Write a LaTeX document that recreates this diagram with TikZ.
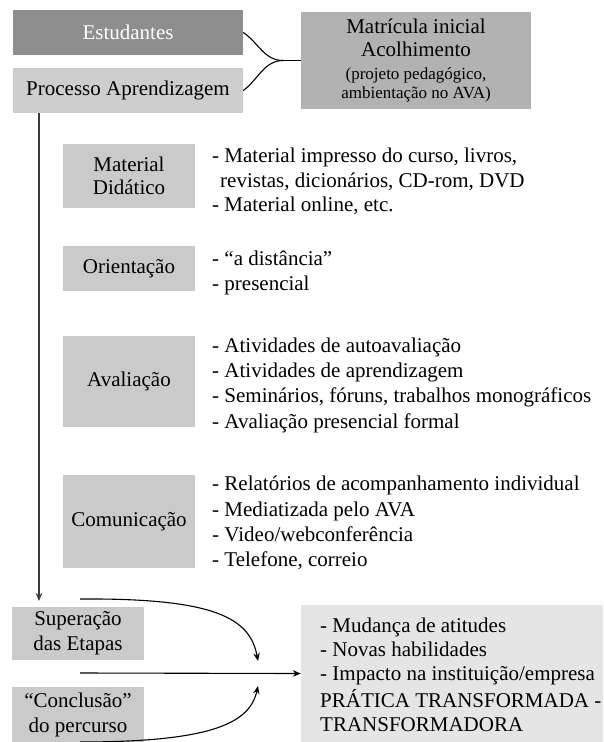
\documentclass[tikz,border=0pt]{standalone}
\usepackage{fontspec}
\setmainfont{Liberation Serif}
\usetikzlibrary{arrows.meta,calc}
\definecolor{gDark}{RGB}{142,142,142}
\definecolor{gMat}{RGB}{178,178,178}
\definecolor{gBox}{RGB}{202,202,202}
\definecolor{gProc}{RGB}{206,206,206}
\definecolor{gFinal}{RGB}{229,229,229}
\definecolor{lineDark}{RGB}{60,60,60}
\begin{document}
\begin{tikzpicture}[x=1pt,y=-1pt,
  box/.style={fill=gBox, draw=none, inner sep=0pt, align=center, font=\fontsize{21}{23}\selectfont},
  txt/.style={anchor=west, align=left, inner sep=0pt, font=\fontsize{21}{25}\selectfont},
  conn/.style={line width=1.1pt, black},
  arr/.style={conn, -{Stealth[length=8pt,width=6.5pt]}}]
\useasboundingbox (0,0) rectangle (603,742);

% top boxes
\node[box, fill=gDark, text=white, minimum width=230pt, minimum height=45pt] (est) at (128,32.5) {Estudantes};
\node[box, fill=gProc, minimum width=230pt, minimum height=45pt] (proc) at (128,90.5) {Processo Aprendizagem};
\node[box, fill=gMat, minimum width=230pt, minimum height=97pt] (mat) at (416,60.5)
  {Matrícula inicial\\Acolhimento\\{\fontsize{17}{19}\selectfont (projeto pedagógico,}\\[-4pt]{\fontsize{17}{19}\selectfont ambientação no AVA)}};

\coordinate (join) at (283,60.5);
\draw[conn] (est.east) .. controls (258,42) and (264,60.5) .. (join);
\draw[conn] (proc.east) .. controls (258,80) and (264,60.5) .. (join);
\draw[conn] (join) -- (mat.west);

% left column boxes
\node[box, minimum width=132pt, minimum height=64pt] (md) at (129,176) {Material\\Didático};
\node[box, minimum width=132pt, minimum height=45pt] (ori) at (129,268.5) {Orientação};
\node[box, minimum width=132pt, minimum height=91pt] (ava) at (129,381.5) {Avaliação};
\node[box, minimum width=132pt, minimum height=93pt] (com) at (129,521.5) {Comunicação};

% right texts
\node[txt, font=\fontsize{21}{24.5}\selectfont] (mdt) at (212,181.5)
  {- Material impresso do curso, livros,\\\hspace*{8pt}revistas, dicionários, CD-rom, DVD\\- Material online, etc.};
\node[txt] (orit) at (212,272.5) {- “a distância”\\- presencial};
\node[txt, font=\fontsize{21}{25.3}\selectfont] (avat) at (212,385)
  {- Atividades de autoavaliação\\- Atividades de aprendizagem\\- Seminários, fóruns, trabalhos monográficos\\- Avaliação presencial formal};
\node[txt, font=\fontsize{21}{25.3}\selectfont] (comt) at (212,523)
  {- Relatórios de acompanhamento individual\\- Mediatizada pelo AVA\\- Video/webconferência\\- Telefone, correio};

% bottom
\node[box, minimum width=132pt, minimum height=53pt, font=\fontsize{21}{25}\selectfont] (sup) at (78,633.5) {Superação\\das Etapas};
\node[box, minimum width=132pt, minimum height=55pt, font=\fontsize{21}{25}\selectfont] (conc) at (78,714.5) {“Conclusão”\\do percurso};
\node[box, fill=gFinal, minimum width=302pt, minimum height=137pt] (fin) at (452,673.5) {};
\node[txt, font=\fontsize{21}{24}\selectfont] (fint) at (320,675)
  {- Mudança de atitudes\\- Novas habilidades\\- Impacto na instituição/empresa\\[3pt]PRÁTICA TRANSFORMADA -\\TRANSFORMADORA};

% vertical arrow
\coordinate (vtop) at (39,113);
\coordinate (vbot) at (39,601);
\draw[arr, lineDark] (vtop) -- (vbot);

% arrows to final
\coordinate (s1) at (80,599);
\coordinate (e1) at (258,661);
\coordinate (s2) at (80,673);
\coordinate (s3) at (80,742);
\coordinate (e3) at (258,686);
\draw[arr] (s1) .. controls (215,598) and (250,618) .. (e1);
\draw[arr] (s2) -- (fin.west);
\draw[arr] (s3) .. controls (215,742) and (250,722) .. (e3);
\end{tikzpicture}
\end{document}
